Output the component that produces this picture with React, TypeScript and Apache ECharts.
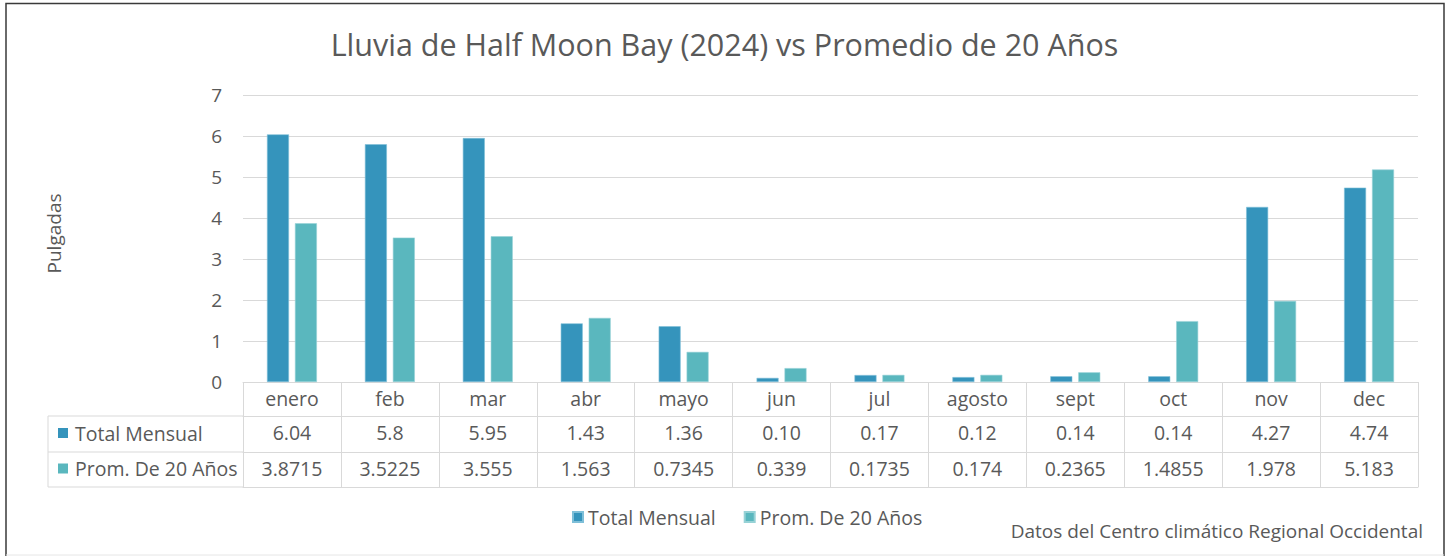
import React, { useEffect, useRef } from "react";
import * as echarts from "echarts";

const months = ["enero", "feb", "mar", "abr", "mayo", "jun", "jul", "agosto", "sept", "oct", "nov", "dec"];
const totalMensual = ["6.04", "5.8", "5.95", "1.43", "1.36", "0.10", "0.17", "0.12", "0.14", "0.14", "4.27", "4.74"];
const promedio20 = ["3.8715", "3.5225", "3.555", "1.563", "0.7345", "0.339", "0.1735", "0.174", "0.2365", "1.4855", "1.978", "5.183"];
const seriesNames = ["Total Mensual", "Prom. De 20 Años"];
const yTicks = [0, 7, 1];

const FONT = "'Open Sans', sans-serif";
const TXT = "#595959";
const LINE = "#d9d9d9";
const C1 = "#3594bc";
const C2 = "#5ab7be";
const FS = 19.5;

export default function App() {
  const ref = useRef<HTMLDivElement>(null);
  useEffect(() => {
    const chart = echarts.init(ref.current!, null, { renderer: "svg" });
    const gridLeft = 243;
    const gridRight = 31;
    const gridTop = 95;
    const gridBottom = 174;
    const axisY = 556 - gridBottom;
    const rowH = [34, 36, 35];
    const tableAxis = (data: string[], offset: number, show: boolean, margin: number) => ({
      type: "category",
      data,
      position: "bottom",
      offset,
      axisLine: { show: true, lineStyle: { color: LINE, width: 1 } },
      axisTick: { show: false },
      axisLabel: {
        show,
        interval: 0,
        margin,
        color: TXT,
        fontFamily: FONT,
        fontSize: FS,
      },
      splitLine: { show: false },
    });
    chart.setOption({
      animation: false,
      title: {
        text: "Lluvia de Half Moon Bay (2024) vs Promedio de 20 Años",
        left: "center",
        top: 23,
        textStyle: { color: TXT, fontFamily: FONT, fontSize: 30.5, fontWeight: "normal" },
      },
      legend: {
        data: seriesNames,
        left: 567,
        top: 502,
        icon: "rect",
        itemWidth: 10,
        itemHeight: 10,
        itemGap: 28,
        textStyle: { color: TXT, fontFamily: FONT, fontSize: FS },
      },
      grid: { left: gridLeft, right: gridRight, top: gridTop, bottom: gridBottom, containLabel: false },
      xAxis: [
        {
          type: "category",
          data: months,
          position: "bottom",
          axisLine: { show: true, lineStyle: { color: LINE, width: 1 } },
          axisTick: {
            show: true,
            interval: 0,
            alignWithLabel: false,
            inside: false,
            length: rowH[0] + rowH[1] + rowH[2],
            lineStyle: { color: LINE, width: 1 },
          },
          axisLabel: { interval: 0, margin: 6, color: TXT, fontFamily: FONT, fontSize: FS },
        },
        tableAxis(totalMensual, rowH[0], true, 6),
        tableAxis(promedio20, rowH[0] + rowH[1], true, 6),
        tableAxis(months, rowH[0] + rowH[1] + rowH[2], false, 6),
      ],
      yAxis: {
        type: "value",
        min: yTicks[0],
        max: yTicks[1],
        interval: yTicks[2],
        name: "Pulgadas",
        nameLocation: "middle",
        nameGap: 180,
        nameRotate: 90,
        nameTextStyle: { color: TXT, fontFamily: FONT, fontSize: 19, padding: [0, 0, 0, 10] },
        axisLine: { show: false },
        axisTick: { show: false },
        axisLabel: { color: TXT, fontFamily: FONT, fontSize: 19, margin: 21 },
        splitLine: { lineStyle: { color: LINE, width: 1 } },
      },
      series: [
        {
          name: seriesNames[0],
          type: "bar",
          xAxisIndex: 0,
          data: totalMensual.map(Number),
          barWidth: 22,
          barGap: "27%",
          itemStyle: { color: C1, borderColor: "#7fbfd8", borderWidth: 0.6 },
        },
        {
          name: seriesNames[1],
          type: "bar",
          xAxisIndex: 0,
          data: promedio20.map(Number),
          barWidth: 22,
          barGap: "27%",
          itemStyle: { color: C2, borderColor: "#97d2d6", borderWidth: 0.6 },
        },
      ],
      graphic: [
        // outer frame
        { type: "polyline", shape: { points: [[6, 560], [6, 3.5], [1444, 3.5], [1444, 560]] }, style: { stroke: "#3a3a3a", lineWidth: 1.5, fill: "none" } },
        { type: "line", shape: { x1: 6, y1: 555, x2: 1444, y2: 555 }, style: { stroke: "#e6e6e6", lineWidth: 1 } },
        // left column of data table
        { type: "line", shape: { x1: 48, y1: axisY + rowH[0], x2: gridLeft, y2: axisY + rowH[0] }, style: { stroke: LINE, lineWidth: 1 } },
        { type: "line", shape: { x1: 48, y1: axisY + rowH[0] + rowH[1], x2: gridLeft, y2: axisY + rowH[0] + rowH[1] }, style: { stroke: LINE, lineWidth: 1 } },
        { type: "line", shape: { x1: 48, y1: axisY + rowH[0] + rowH[1] + rowH[2], x2: gridLeft, y2: axisY + rowH[0] + rowH[1] + rowH[2] }, style: { stroke: LINE, lineWidth: 1 } },
        { type: "line", shape: { x1: 48, y1: axisY + rowH[0], x2: 48, y2: axisY + rowH[0] + rowH[1] + rowH[2] }, style: { stroke: LINE, lineWidth: 1 } },
        { type: "rect", shape: { x: 58, y: axisY + rowH[0] + rowH[1] / 2 - 6, width: 10, height: 10 }, style: { fill: C1 } },
        { type: "text", x: 75, y: axisY + rowH[0] + rowH[1] / 2 - 1, style: { text: seriesNames[0], fill: TXT, font: `${FS}px ${FONT}`, verticalAlign: "middle" } },
        { type: "rect", shape: { x: 58, y: axisY + rowH[0] + rowH[1] + rowH[2] / 2 - 6, width: 10, height: 10 }, style: { fill: C2 } },
        { type: "text", x: 75, y: axisY + rowH[0] + rowH[1] + rowH[2] / 2 - 1, style: { text: seriesNames[1], fill: TXT, font: `${FS}px ${FONT}`, verticalAlign: "middle" } },
        // source note
        { type: "text", right: 26, top: 521, style: { text: "Datos del Centro climático Regional Occidental", fill: TXT, font: `19px ${FONT}` } },
      ],
    });
    return () => chart.dispose();
  }, []);
  return <div ref={ref} style={{ position: "fixed", left: 0, top: 0, width: 1449, height: 556, background: "#fff" }} />;
}
